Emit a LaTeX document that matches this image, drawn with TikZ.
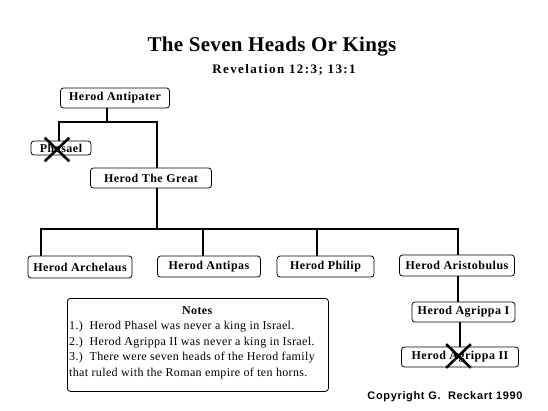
\documentclass[tikz,border=0pt]{standalone}
\usepackage{fontspec}
\setmainfont{Liberation Serif}
\setsansfont{Liberation Sans}
\usetikzlibrary{positioning,shapes.misc}

\tikzset{
  kingbox/.style={draw, rounded corners=3pt, line width=0.8pt, minimum height=20pt, inner sep=2pt, font=\fontsize{12}{14}\selectfont\bfseries\addfontfeatures{LetterSpace=4}},
  conn/.style={line width=2.5pt},
  xmark/.style={cross out, draw, line width=2.6pt, minimum width=22pt, minimum height=21pt, inner sep=0pt}
}

\begin{document}
\begin{tikzpicture}[x=1pt, y=-1pt]
\useasboundingbox (0,0) rectangle (548,410);
% titles
\node (title) at (272,47) {\fontsize{21}{24}\selectfont\bfseries\addfontfeatures{LetterSpace=1.5}The Seven Heads Or Kings};
\node (subtitle) at (284,70) {\fontsize{13}{15}\selectfont\bfseries\addfontfeatures{LetterSpace=11}Revelation 12:3; 13:1};
% family boxes
\node (antipater) [kingbox, minimum width=109pt] at (115,98) {Herod Antipater};
\node (phasael) [kingbox, minimum width=60pt, minimum height=14pt, inner sep=0pt] at (61,148) {Phasael};
\node (great) [kingbox, minimum width=121pt] at (151,178) {Herod The Great};
\node (archelaus) [kingbox, minimum width=104pt, minimum height=22pt] at (80,267) {Herod Archelaus};
\node (antipas) [kingbox, minimum width=103pt, minimum height=21pt] at (209,266.5) {Herod Antipas};
\node (philip) [kingbox, minimum width=97pt, minimum height=21pt] at (325.5,266.5) {Herod Philip};
\node (aristobulus) [kingbox, minimum width=115pt, minimum height=21pt] at (457,265.5) {Herod Aristobulus};
\node (agrippaI) [kingbox, minimum width=103pt] at (463.5,312) {Herod Agrippa I};
\node (agrippaII) [kingbox, minimum width=117pt] at (460,357) {Herod Agrippa II};
% connectors
\coordinate (split1) at (107,122);
\coordinate (split2) at (157,229);
\draw[conn] (antipater.south -| split1) -- (split1);
\draw[conn] ([xshift=-2pt]phasael.north) |- (split1) -| ([xshift=6pt]great.north);
\draw[conn] ([xshift=6pt]great.south) -- (split2);
\draw[conn] ([xshift=-39pt]archelaus.north) |- (split2) -| ([xshift=1pt]aristobulus.north);
\draw[conn] ([xshift=-6pt]antipas.north) -- ([xshift=-6pt]antipas.north |- split2);
\draw[conn] ([xshift=-8.5pt]philip.north) -- ([xshift=-8.5pt]philip.north |- split2);
\draw[conn] ([xshift=1pt]aristobulus.south) -- ([xshift=1pt]aristobulus.south |- agrippaI.north);
\draw[conn] ([xshift=-3.5pt]agrippaI.south) -- ([xshift=-3.5pt]agrippaI.south |- agrippaII.north);
% crossed out
\node (phasaelx) [xmark] at (57,149.5) {};
\node (agrippaIIx) [xmark] at (458.5,356) {};
% notes
\node (notes) [draw, rounded corners=3pt, line width=0.8pt, minimum width=261pt, minimum height=93pt, anchor=north west] at (67,298) {};
\node (notestext) [anchor=north west, inner sep=0pt, align=left, font=\fontsize{12}{15.5}\selectfont\addfontfeatures{LetterSpace=3}] at ([xshift=2pt, yshift=-8pt]notes.north west)
  {\makebox[256pt]{\bfseries Notes}\\
   1.)\ \ Herod Phasel was never a king in Israel.\\
   2.)\ \ Herod Agrippa II was never a king in Israel.\\
   3.)\ \ There were seven heads of the Herod family\\
   that ruled with the Roman empire of ten horns.};
% copyright
\node (copyright) at (445,397) {\fontsize{11}{13}\selectfont\sffamily\bfseries\addfontfeatures{LetterSpace=6}Copyright G.\ \ Reckart 1990};
\end{tikzpicture}
\end{document}
